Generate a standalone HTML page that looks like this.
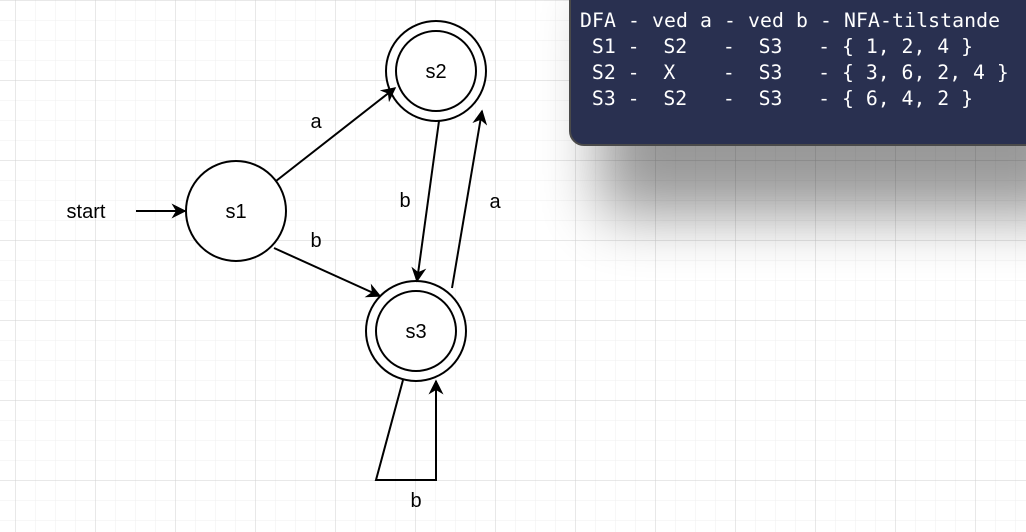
<!DOCTYPE html>
<html><head><meta charset="utf-8"><style>
html,body{margin:0;padding:0;background:#fff}
svg{display:block}
.m{white-space:pre}
</style></head><body>
<svg width="1026" height="532" viewBox="0 0 1026 532" xmlns="http://www.w3.org/2000/svg">
<defs>
<pattern id="minor" x="15" y="0" width="20" height="20" patternUnits="userSpaceOnUse">
<path d="M0 0V20M0 0H20" stroke="#efefef" stroke-width="1" fill="none"/>
</pattern>
<pattern id="major" x="15" y="0" width="80" height="80" patternUnits="userSpaceOnUse">
<path d="M0 0V80M0 0H80" stroke="#d0d0d0" stroke-width="1" fill="none"/>
</pattern>
<filter id="sh" x="-30%" y="-60%" width="160%" height="260%"><feGaussianBlur stdDeviation="30"/></filter>
<marker id="ar" viewBox="0 0 10 10" refX="9" refY="5" markerWidth="15" markerHeight="15" markerUnits="userSpaceOnUse" orient="auto">
<path d="M0 0L10 5L0 10L3 5Z" fill="#000"/>
</marker>
</defs>
<rect width="1026" height="532" fill="#fff"/>
<rect width="1026" height="532" fill="url(#minor)"/>
<rect width="1026" height="532" fill="url(#major)"/>
<rect x="600" y="0" width="480" height="215" rx="12" fill="#000" opacity="0.4" filter="url(#sh)"/>
<rect x="570" y="-20" width="470" height="165" rx="14" fill="#293050" stroke="#4a4a4a" stroke-width="2"/>
<g font-family="DejaVu Sans Mono, Liberation Mono, monospace" font-size="19.8" fill="#fff" class="m">
<text x="580" y="27" class="m" textLength="420">DFA - ved a - ved b - NFA-tilstande</text>
<text x="580" y="53" class="m"> S1 -  S2   -  S3   - { 1, 2, 4 }</text>
<text x="580" y="79" class="m"> S2 -  X    -  S3   - { 3, 6, 2, 4 }</text>
<text x="580" y="105" class="m"> S3 -  S2   -  S3   - { 6, 4, 2 }</text>
</g>
<g stroke="#000" stroke-width="2" fill="#fff">
<circle cx="236" cy="211" r="50"/>
<circle cx="436" cy="71" r="50"/>
<circle cx="436" cy="71" r="40"/>
<circle cx="416" cy="331" r="50"/>
<circle cx="416" cy="331" r="40"/>
</g>
<g stroke="#000" stroke-width="2" fill="none" marker-end="url(#ar)">
<line x1="136" y1="211" x2="185" y2="211"/>
<line x1="276" y1="181" x2="395" y2="88"/>
<line x1="274" y1="248" x2="380" y2="296"/>
<line x1="439" y1="121" x2="417" y2="281"/>
<line x1="452" y1="288" x2="482" y2="111"/>
<polyline points="403,380 376,480 436,480 436,381"/>
</g>
<g font-family="Liberation Sans, Arial, sans-serif" font-size="20" fill="#000" text-anchor="middle">
<text x="236" y="218">s1</text>
<text x="436" y="78">s2</text>
<text x="416" y="338">s3</text>
<text x="86" y="218">start</text>
<text x="316" y="128">a</text>
<text x="316" y="247">b</text>
<text x="405" y="207">b</text>
<text x="495" y="208">a</text>
<text x="416" y="507">b</text>
</g>
</svg>
</body></html>
